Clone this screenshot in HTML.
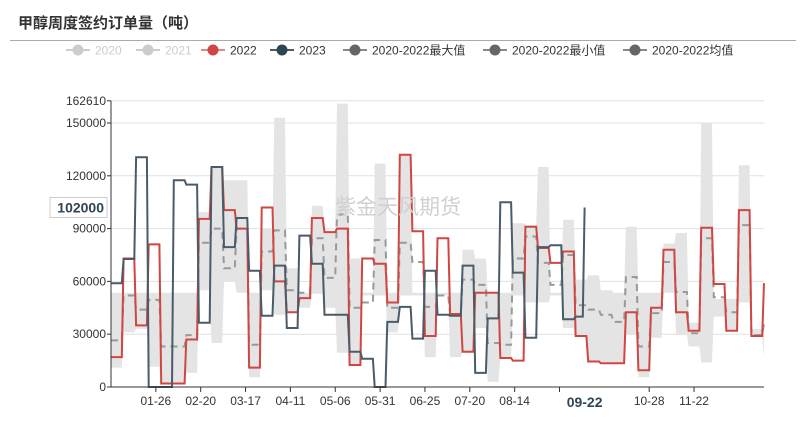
<!DOCTYPE html>
<html><head><meta charset="utf-8">
<style>
body{margin:0;background:#fff;font-family:"Liberation Sans","Noto Sans CJK SC",sans-serif;}
#wrap{position:relative;width:806px;height:430px;overflow:hidden;}
svg text{font-family:"Liberation Sans","Noto Sans CJK SC",sans-serif;}
</style></head>
<body>
<div id="wrap">
<svg id="chart" width="806" height="430">
  <text x="18" y="28" font-size="15" font-weight="bold" fill="#333">甲醇周度签约订单量（吨）</text>
  <line x1="10" y1="40.5" x2="796" y2="40.5" stroke="#aaa" stroke-width="1"/>
  <g id="legend"></g>
  <g id="grid"></g>
  <g id="series"></g>
  <text x="335" y="214" font-size="21" fill="#d0d0d0">紫金天风期货</text>
  <g id="axes"></g>
</svg>
</div>
<script>
const yTicks = [0, 30000, 60000, 90000, 120000, 150000, 162610];
const xTickLabels = ["01-26","02-20","03-17","04-11","05-06","05-31","06-25","07-20","08-14","","10-28","11-22"];
const xTickDays = [25,50,75,100,125,150,175,200,225,250,300,325];
const s2022 = [17000,73000,35000,81000,2000,2000,27000,95500,125000,100500,90000,11000,102000,60000,42500,50500,96000,88000,90000,12500,73000,70000,48000,132000,88500,29000,84500,41500,20000,53500,53500,16500,15000,91000,79000,70500,77000,29000,14500,13500,13500,42500,9500,45000,78000,42500,32000,90500,58500,32000,100500,29000,59000];
const s2023 = [59000,72700,130500,0,0,117500,115000,36500,125000,79500,96000,66000,40500,69000,33500,86000,70000,41000,41000,20000,16000,0,37000,45500,27500,66000,41000,40500,69000,8000,39000,105000,65000,28000,79500,80500,38500,40000];
const s2023LastDay = 264;
const s2023LastValue = 102000;
const sMax = [53500,53500,53500,53500,53500,53500,53500,99500,125000,117500,117500,53500,90000,153000,67500,53500,103000,88000,161000,73000,53500,127000,53500,132000,53500,53500,53500,53500,78000,73000,53500,53500,93000,92000,125000,53500,95000,61000,63500,55000,53500,91000,53500,53500,81500,87500,36500,150000,50000,50000,126000,33000,40000];
const sMin = [11000,31000,33000,11500,2000,2000,8000,55000,25000,60000,53500,5500,55000,41000,42500,45000,53000,45000,19500,12500,52000,52000,31000,52000,52000,17000,52000,17000,20000,33500,3000,16500,52000,48000,48000,52000,33500,29000,14500,13500,13500,29500,5500,28000,53500,29500,23000,14000,40000,32000,48000,29000,17000];
const sMean = [26500,52000,44000,49500,23000,23000,29500,82000,90000,67500,90000,24000,77000,89000,55000,53500,84500,62000,98000,45000,48000,83500,45000,82000,71000,45500,52000,41000,61000,58000,25000,24000,73000,85500,70500,58000,75000,46500,44000,41000,37000,62500,23000,42000,71000,54000,30500,84500,51000,42500,92000,29500,36000];

const NS="http://www.w3.org/2000/svg";
const X0=111, X1=764, Y0=387, YMAX=162610, YTOP=100.8;
function xs(day){return X0+day*(X1-X0)/364;}
function ys(v){return Y0-v*(Y0-YTOP)/YMAX;}
function mk(tag,attrs,parent){const e=document.createElementNS(NS,tag);for(const k in attrs)e.setAttribute(k,attrs[k]);parent.appendChild(e);return e;}
function stepPts(arr){const p=[];arr.forEach((v,i)=>{const d0=7*i,d1=Math.min(7*i+6,364);p.push([xs(d0),ys(v)]);p.push([xs(d1),ys(v)]);});return p;}
function ptsStr(p){return p.map(q=>q[0].toFixed(1)+","+q[1].toFixed(1)).join(" ");}

const grid=document.getElementById('grid');
yTicks.forEach(t=>{
  const gl=mk('line',{x1:X0,x2:X1,y1:ys(t),y2:ys(t),stroke:'#e0e0e0','stroke-width':1},grid);
  
  
});

const ser=document.getElementById('series');
const maxP=stepPts(sMax), minP=stepPts(sMin).reverse();
const band=mk('polygon',{points:ptsStr(maxP.concat(minP)),fill:'#e4e4e4'},ser);


const mean=mk('polyline',{points:ptsStr(stepPts(sMean)),fill:'none',stroke:'#999','stroke-width':2,'stroke-dasharray':'7,5'},ser);


const red=mk('polyline',{points:ptsStr(stepPts(s2022)),fill:'none',stroke:'#cf4642','stroke-width':2},ser);


const p23=stepPts(s2023);
p23[p23.length-1][0]=xs(s2023LastDay-1);
p23.push([xs(s2023LastDay),ys(s2023LastValue)]);
const blue=mk('polyline',{points:ptsStr(p23),fill:'none',stroke:'#4a5b6a','stroke-width':2},ser);



const ax=document.getElementById('axes');
const yl=mk('line',{x1:X0,x2:X0,y1:YTOP,y2:Y0,stroke:'#333','stroke-width':1},ax);


const xl=mk('line',{x1:X0,x2:X1,y1:Y0,y2:Y0,stroke:'#333','stroke-width':1},ax);


yTicks.forEach(t=>{
  const tk=mk('line',{x1:X0-4,x2:X0,y1:ys(t),y2:ys(t),stroke:'#333'},ax);
  
  
  const lb=mk('text',{x:X0-5,y:ys(t)+4,'font-size':12,fill:'#333','text-anchor':'end'},ax);
  lb.textContent=t;
  
  
});
xTickDays.forEach((d,i)=>{
  const tk=mk('line',{x1:xs(d),x2:xs(d),y1:Y0,y2:Y0+5,stroke:'#333'},ax);
  
  
  if(!xTickLabels[i])return;
  const lb=mk('text',{x:xs(d),y:Y0+18,'font-size':12,fill:'#333','text-anchor':'middle'},ax);
  lb.textContent=xTickLabels[i];
  
  
});
const ptrX=mk('text',{x:xs(s2023LastDay),y:Y0+20,'font-size':14,'font-weight':'bold',fill:'#2f4554','text-anchor':'middle'},ax);
ptrX.textContent='09-22';


const ptrBox=mk('rect',{x:50,y:ys(s2023LastValue)-10,width:57,height:20,fill:'#fff',stroke:'#ccc'},ax);


const ptrY=mk('text',{x:104,y:ys(s2023LastValue)+5,'font-size':14,'font-weight':'bold',fill:'#2f4554','text-anchor':'end'},ax);
ptrY.textContent=String(s2023LastValue);



const lg=document.getElementById('legend');
const legendItems=[["2020","#ccc","#ccc",78],["2021","#ccc","#ccc",148],["2022","#cf4642","#e08a88",213],["2023","#2f4554","#4a5b6a",282],["2020-2022最大值","#666","#888",355],["2020-2022最小值","#666","#888",495],["2020-2022均值","#666","#888",635]];
legendItems.forEach(it=>{
  const g=mk('g',{},lg);
  
  
  mk('line',{x1:it[3]-12,x2:it[3]+12,y1:50,y2:50,stroke:it[2],'stroke-width':2},g);
  mk('circle',{cx:it[3],cy:50,r:5.5,fill:it[1]},g);
  const t=mk('text',{x:it[3]+17,y:54.5,'font-size':12,fill:(it[1]==='#ccc'?'#ccc':'#333')},g);
  t.textContent=it[0];
});
</script>
</body></html>
